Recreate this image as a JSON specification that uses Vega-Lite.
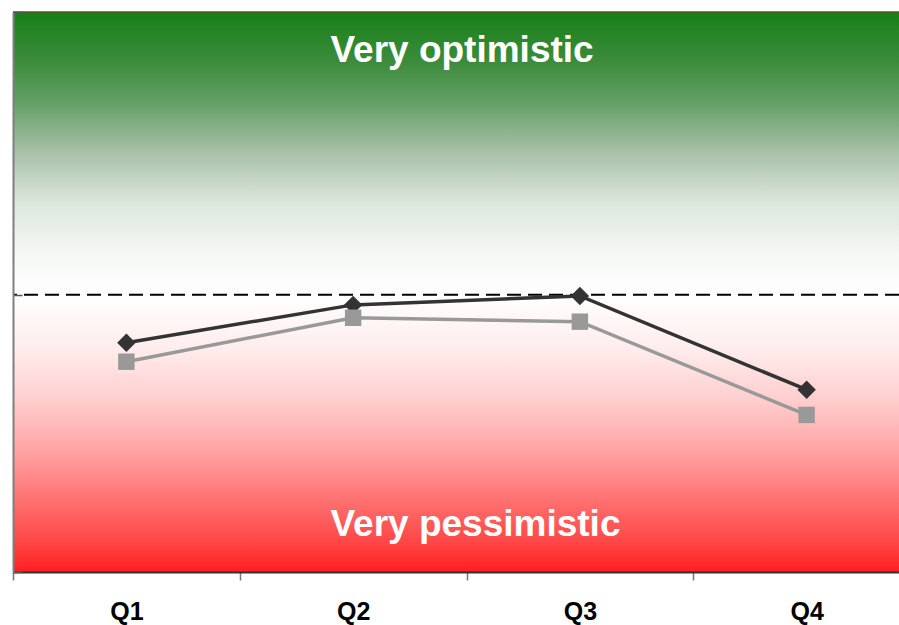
{
  "$schema": "https://vega.github.io/schema/vega-lite/v6.json",
  "autosize": {"type": "none"},
  "width": 886,
  "height": 560,
  "padding": {"left": 13, "top": 12, "right": 0, "bottom": 53},
  "background": "white",
  "config": {
    "view": {"stroke": null},
    "font": "Liberation Sans"
  },
  "datasets": {
    "series": [
      {"quarter": "Q1", "series": "A", "value": -0.171},
      {"quarter": "Q2", "series": "A", "value": -0.036},
      {"quarter": "Q3", "series": "A", "value": -0.004},
      {"quarter": "Q4", "series": "A", "value": -0.339},
      {"quarter": "Q1", "series": "B", "value": -0.239},
      {"quarter": "Q2", "series": "B", "value": -0.082},
      {"quarter": "Q3", "series": "B", "value": -0.096},
      {"quarter": "Q4", "series": "B", "value": -0.429}
    ],
    "labels": [
      {"label": "Very optimistic", "value": 0.832},
      {"label": "Very pessimistic", "value": -0.861}
    ]
  },
  "layer": [
    {
      "data": {"values": [{"band": "all"}]},
      "mark": {
        "type": "rect",
        "color": {
          "gradient": "linear", "x1": 0, "y1": 0, "x2": 0, "y2": 1,
          "stops": [
            {"offset": 0.0, "color": "#168016"},
            {"offset": 0.09, "color": "#3d8c3d"},
            {"offset": 0.16, "color": "#62a064"},
            {"offset": 0.25, "color": "#a8c0a8"},
            {"offset": 0.34, "color": "#dce6dc"},
            {"offset": 0.43, "color": "#f5f8f5"},
            {"offset": 0.505, "color": "#ffffff"},
            {"offset": 0.6, "color": "#ffeded"},
            {"offset": 0.69, "color": "#ffcfcf"},
            {"offset": 0.78, "color": "#ffa5a5"},
            {"offset": 0.87, "color": "#ff7272"},
            {"offset": 0.95, "color": "#ff4444"},
            {"offset": 1.0, "color": "#ff1e1e"}
          ]
        }
      },
      "encoding": {
        "y": {"datum": 1.01, "type": "quantitative"},
        "y2": {"datum": -0.99}
      }
    },
    {
      "data": {"values": [{"ref": 0}]},
      "mark": {"type": "rule", "color": "black", "strokeWidth": 2, "strokeDash": [14, 7]},
      "encoding": {"y": {"field": "ref", "type": "quantitative"}}
    },
    {
      "data": {"values": [{"ref": 1.01}]},
      "mark": {"type": "rule", "color": "#4d5a22", "strokeWidth": 1.5},
      "encoding": {"y": {"field": "ref", "type": "quantitative"}}
    },
    {
      "data": {"name": "labels"},
      "mark": {"type": "text", "color": "white", "fontWeight": "bold", "fontSize": 37, "align": "left", "baseline": "alphabetic", "font": "Liberation Sans"},
      "encoding": {
        "x": {"datum": "Q2", "type": "ordinal", "bandPosition": 0.4},
        "y": {"field": "value", "type": "quantitative"},
        "text": {"field": "label"}
      }
    },
    {
      "data": {"name": "series"},
      "layer": [
        {
          "mark": {"type": "line", "strokeWidth": 3.5},
          "encoding": {
            "x": {
              "field": "quarter", "type": "ordinal",
              "scale": {"range": [0, 907], "paddingInner": 0, "paddingOuter": 0},
              "axis": {
                "title": null, "tickBand": "extent", "tickSize": 8, "tickColor": "#777777", "tickWidth": 1.5,
                "domainColor": "#333333", "domainWidth": 2, "zindex": 1,
                "labelFont": "Liberation Sans", "labelFontWeight": "bold", "labelFontSize": 25, "labelColor": "black",
                "labelPadding": 31, "labelAngle": 0, "labelAlign": "center", "grid": false
              }
            },
            "y": {
              "field": "value", "type": "quantitative",
              "scale": {"domain": [-0.99, 1.01], "nice": false, "zero": false},
              "axis": {
                "title": null, "labels": false, "grid": false, "values": [-0.99, 0, 1.01],
                "tickSize": -9, "tickColor": "#555555", "tickWidth": 1.5, "zindex": 1,
                "domainColor": "#7f7f7f", "domainWidth": 2
              }
            },
            "color": {
              "field": "series", "type": "nominal", "legend": null,
              "scale": {"domain": ["A", "B"], "range": ["#333333", "#999999"]}
            }
          }
        },
        {
          "mark": {"type": "point", "filled": true, "opacity": 1},
          "encoding": {
            "x": {"field": "quarter", "type": "ordinal"},
            "y": {"field": "value", "type": "quantitative"},
            "color": {"field": "series", "type": "nominal", "legend": null},
            "shape": {"field": "series", "type": "nominal", "legend": null, "scale": {"domain": ["A", "B"], "range": ["diamond", "square"]}},
            "size": {"field": "series", "type": "nominal", "legend": null, "scale": {"domain": ["A", "B"], "range": [340, 270]}}
          }
        }
      ]
    }
  ]
}
